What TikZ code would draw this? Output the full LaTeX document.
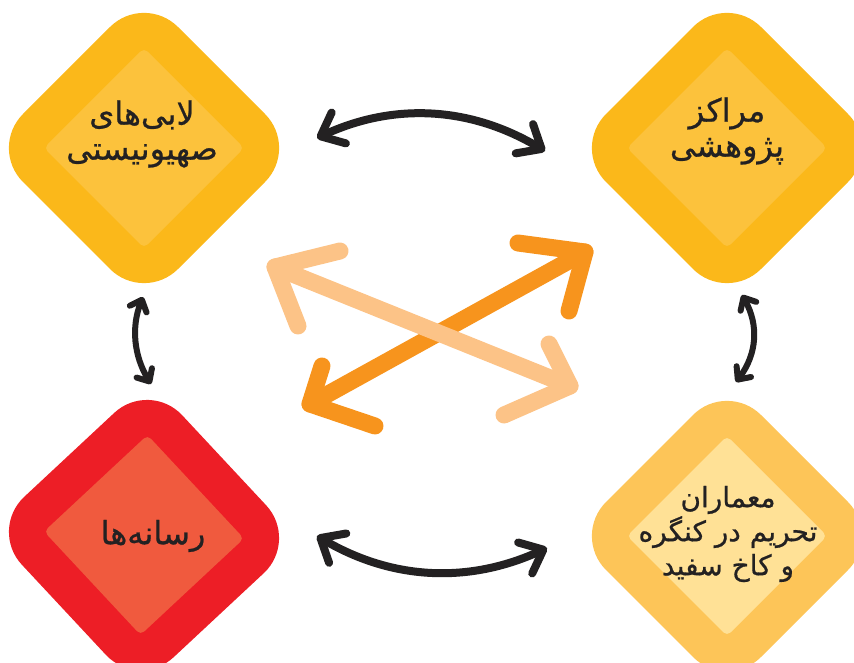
\documentclass[tikz,border=0pt]{standalone}
\usepackage{fontspec}
\newfontfamily\arabicfont[Script=Arabic,FakeBold=0.7]{DejaVu Sans}
\TeXXeTstate=1
\usetikzlibrary{arrows.meta}
\definecolor{yelO}{RGB}{251,184,26}
\definecolor{yelI}{RGB}{252,194,60}
\definecolor{redO}{RGB}{237,30,38}
\definecolor{redI}{RGB}{240,90,62}
\definecolor{ltyO}{RGB}{253,197,88}
\definecolor{ltyI}{RGB}{255,225,150}
\definecolor{ink}{RGB}{35,33,34}
\definecolor{orD}{RGB}{247,148,29}
\definecolor{orL}{RGB}{252,195,135}
\newcommand\prsline[1]{\beginR #1\endR}
\newcommand\rdiamond[5]{% cx, cy, R, rounding, colour
  \fill[#5, rounded corners=#4] ({#1+#3/2},{#2-#3/2}) -- ({#1+#3},{#2}) -- ({#1},{#2+#3}) -- ({#1-#3},{#2}) -- ({#1},{#2-#3}) -- cycle;}
\begin{document}
\begin{tikzpicture}[x=1pt,y=-1pt,
  txt/.style={text=ink, font=\arabicfont\fontsize{32}{35}\selectfont, align=center, inner sep=0pt},
  smalltxt/.style={txt, font=\arabicfont\fontsize{28}{34}\selectfont},
  bigbend/.style={draw=ink, line width=8pt, line cap=round, {Straight Barb[length=20pt,width=34pt,round]}-{Straight Barb[length=20pt,width=34pt,round]}},
  smallbend/.style={draw=ink, line width=6pt, line cap=round, {Straight Barb[length=10pt,width=18pt,round]}-{Straight Barb[length=10pt,width=18pt,round]}},
  darkband/.style={draw=orD, line width=17pt, line cap=round, line join=round},
  lightband/.style={draw=orL, line width=17pt, line cap=round, line join=round}]
\useasboundingbox (0,0) rectangle (854,663);
\clip (0,0) rectangle (854,663);
% diamonds
\rdiamond{144}{148}{155}{48pt}{yelO}
\rdiamond{144}{148}{100}{5pt}{yelI}
\rdiamond{727}{148}{155}{48pt}{yelO}
\rdiamond{727}{148}{100}{5pt}{yelI}
\begin{scope}[rotate around={-2:(144,535)}]
\rdiamond{144}{535}{155}{48pt}{redO}
\rdiamond{144}{535}{100}{5pt}{redI}
\end{scope}
\rdiamond{727}{536}{155}{48pt}{ltyO}
\rdiamond{727}{536}{100}{5pt}{ltyI}
% labels
\node[txt] (lobby) at (142,134) {\prsline{لابی‌های}\\\prsline{صهیونیستی}};
\node[txt] (research) at (727,131) {\prsline{مراکز}\\\prsline{پژوهشی}};
\node[txt] (media) at (153,536) {\prsline{رسانه‌ها}};
\node[smalltxt] (architects) at (728,534) {\prsline{معماران}\\\prsline{تحریم در کنگره}\\\prsline{و کاخ سفید}};
% black curved arrows
\coordinate (tl) at (317,138); \coordinate (tr) at (545,151);
\coordinate (bl) at (317,536); \coordinate (br) at (547,548);
\coordinate (lt) at (143,297); \coordinate (lb) at (151,384);
\coordinate (rt) at (742,295); \coordinate (rb) at (736,382);
\draw[bigbend] (tl) .. controls (395,102) and (471,107) .. (tr);
\draw[bigbend] (bl) .. controls (392,580) and (468,584) .. (br);
\draw[smallbend] (lt) .. controls (131,327) and (134,356) .. (lb);
\draw[smallbend] (rt) .. controls (759,325) and (757,354) .. (rb);
% orange crossed arrows
\coordinate (dA) at (310,404); \coordinate (dB) at (585,252);
\coordinate (dA1) at (322,366); \coordinate (dA2) at (375,426);
\coordinate (dB1) at (518,243); \coordinate (dB2) at (569,311);
\coordinate (lC) at (275,267); \coordinate (lE) at (570,386);
\coordinate (lC1) at (340,251); \coordinate (lC2) at (298,326);
\coordinate (lE1) at (549,344); \coordinate (lE2) at (504,415);
\draw[darkband] (dA) -- (dB);
\draw[darkband] (dA1) -- (dA) -- (dA2);
\draw[darkband] (dB1) -- (dB) -- (dB2);
\draw[lightband] (lC) -- (lE);
\draw[lightband] (lC1) -- (lC) -- (lC2);
\draw[lightband] (lE1) -- (lE) -- (lE2);
\end{tikzpicture}
\end{document}
